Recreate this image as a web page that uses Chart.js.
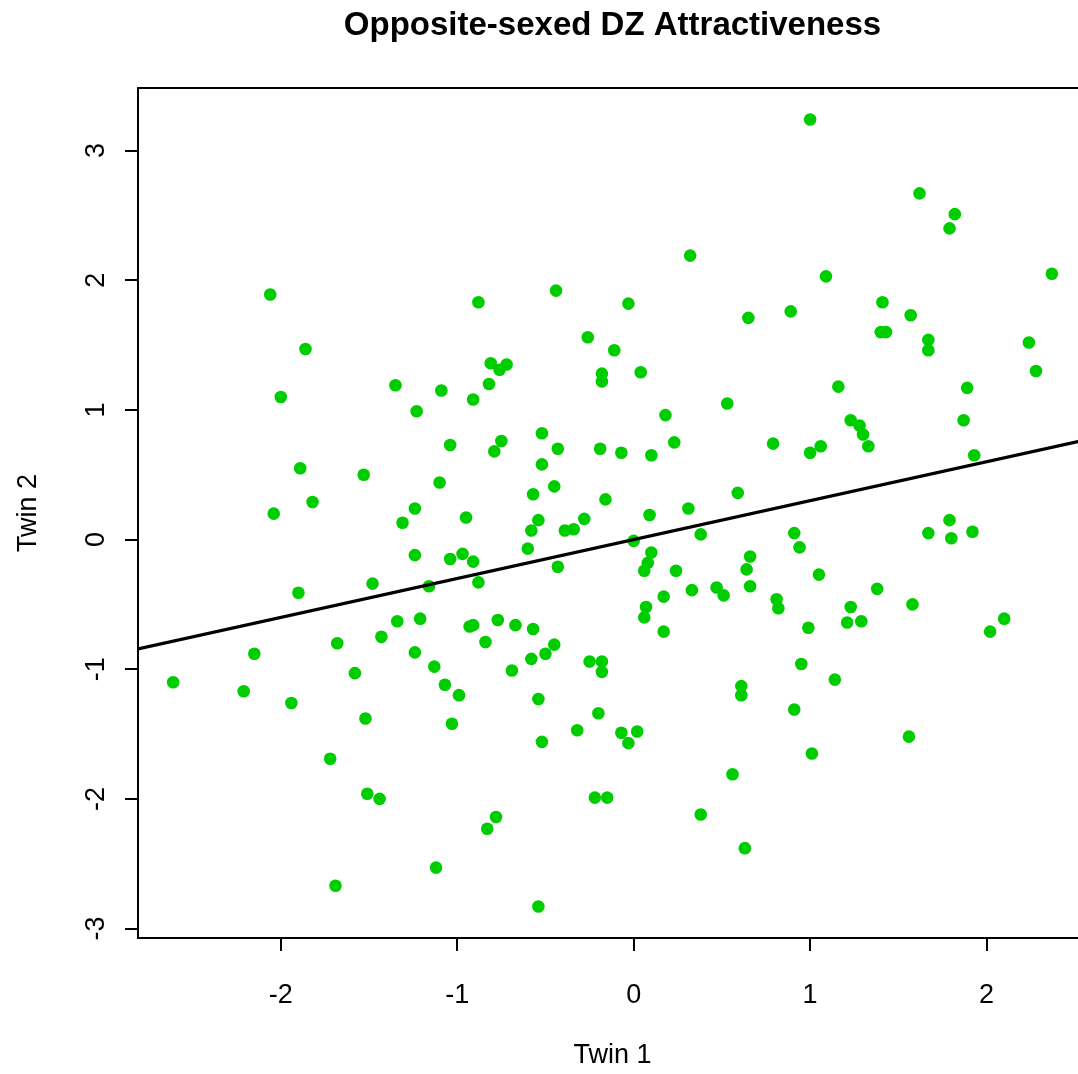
<!DOCTYPE html>
<html>
<head>
<meta charset="utf-8">
<title>Opposite-sexed DZ Attractiveness</title>
<script src="https://cdn.jsdelivr.net/npm/chart.js@4/dist/chart.umd.min.js"></script>
<style>
  html, body { margin: 0; padding: 0; background: #fff; overflow: hidden; }
  canvas { display: block; }
</style>
</head>
<body>
<!-- the plot region runs a little past the right edge of the window, as in the original -->
<canvas id="scatter-chart" width="1087" height="1074"></canvas>
<script>

// twin pair scores
var twin1 = [
  -2.06, 0.32, -0.44, -0.88, -0.03, 1.00, 1.62, 1.82, 1.79, 1.09,
  2.37, 1.41, -1.86, -2.00, -1.35, -1.09, -1.23, -1.04, -1.89, -1.53,
  -1.10, -1.82, -2.04, -1.24, -1.31, 0.65, -0.26, -0.11, -0.81, -0.72,
  -0.76, -0.18, -0.18, 0.04, -0.82, -0.91, 0.53, 0.18, -0.75, -0.79,
  -0.52, -0.43, -0.19, -0.07, 0.10, 0.23, -0.52, -0.45, -0.57, -0.16,
  0.59, 0.09, 0.31, 0.89, 1.57, 1.40, 1.43, 1.67, 1.67, 2.24,
  2.28, 1.16, 1.89, 1.23, 1.28, 1.30, 1.33, 1.87, 0.79, 1.00,
  1.06, 1.93, -1.24, -1.04, -1.48, -1.16, -1.90, -1.34, -1.21, -1.43,
  -1.68, -2.15, -1.24, -1.13, -1.58, -2.61, -2.21, -1.07, -1.94, -1.52,
  -1.03, -0.95, -0.54, -0.58, -0.39, -0.34, -0.28, 0.38, -0.60, 0.00,
  0.10, 0.08, 0.06, 0.24, -0.97, -0.91, -0.43, -0.88, 0.66, 0.64,
  0.66, 0.33, 0.47, 0.51, 0.17, 0.07, 0.06, 0.17, -0.77, -0.67,
  -0.57, -0.93, -0.91, -0.84, -0.45, -0.50, -0.58, -0.69, -0.25, -0.18,
  -0.18, -0.99, -0.54, -0.20, 0.61, 0.61, 0.91, 0.94, 1.67, 1.79,
  1.80, 1.92, 1.05, 1.38, 1.58, 0.81, 0.82, 1.23, 1.21, 1.29,
  0.99, 2.10, 2.02, 0.95, 1.14, 0.91, -1.72, -1.51, -1.44, -1.12,
  -1.69, -0.52, -0.32, -0.07, 0.02, -0.03, 0.56, -0.22, -0.15, -0.78,
  -0.83, 0.38, 0.63, -0.54, 1.01, 1.56
];

var twin2 = [
  1.89, 2.19, 1.92, 1.83, 1.82, 3.24, 2.67, 2.51, 2.40, 2.03,
  2.05, 1.83, 1.47, 1.10, 1.19, 1.15, 0.99, 0.73, 0.55, 0.50,
  0.44, 0.29, 0.20, 0.24, 0.13, 1.71, 1.56, 1.46, 1.36, 1.35,
  1.31, 1.28, 1.22, 1.29, 1.20, 1.08, 1.05, 0.96, 0.76, 0.68,
  0.82, 0.70, 0.70, 0.67, 0.65, 0.75, 0.58, 0.41, 0.35, 0.31,
  0.36, 0.19, 0.24, 1.76, 1.73, 1.60, 1.60, 1.54, 1.46, 1.52,
  1.30, 1.18, 1.17, 0.92, 0.88, 0.81, 0.72, 0.92, 0.74, 0.67,
  0.72, 0.65, -0.12, -0.15, -0.34, -0.36, -0.41, -0.63, -0.61, -0.75,
  -0.80, -0.88, -0.87, -0.98, -1.03, -1.10, -1.17, -1.12, -1.26, -1.38,
  -1.42, 0.17, 0.15, 0.07, 0.07, 0.08, 0.16, 0.04, -0.07, -0.01,
  -0.10, -0.18, -0.24, -0.24, -0.11, -0.17, -0.21, -0.33, -0.13, -0.23,
  -0.36, -0.39, -0.37, -0.43, -0.44, -0.52, -0.60, -0.71, -0.62, -0.66,
  -0.69, -0.67, -0.66, -0.79, -0.81, -0.88, -0.92, -1.01, -0.94, -0.94,
  -1.02, -1.20, -1.23, -1.34, -1.13, -1.20, 0.05, -0.06, 0.05, 0.15,
  0.01, 0.06, -0.27, -0.38, -0.50, -0.46, -0.53, -0.52, -0.64, -0.63,
  -0.68, -0.61, -0.71, -0.96, -1.08, -1.31, -1.69, -1.96, -2.00, -2.53,
  -2.67, -1.56, -1.47, -1.49, -1.48, -1.57, -1.81, -1.99, -1.99, -2.14,
  -2.23, -2.12, -2.38, -2.83, -1.65, -1.52
];

var xTickValues = [ -2, -1, 0, 1, 2 ];
var yTickValues = [ -3, -2, -1, 0, 1, 2, 3 ];

// fitted line twin2 ~ twin1
var fitIntercept = 0.0;
var fitSlope = 0.30;

( function() {

  var FONT = '"Liberation Sans", Arial, Helvetica, sans-serif';

  // R style limits: data range stretched by 4% each side
  var padRange = function( values ) {
    var lo = Math.min.apply( Math, values );
    var hi = Math.max.apply( Math, values );
    var pad = ( hi - lo ) * 0.04;
    return [ lo - pad, hi + pad ];
  };

  var xLim = padRange( twin1 );
  var yLim = padRange( twin2 );

  var points = twin1.map( function( x, i ) {
    return { x: x, y: twin2[ i ] };
  } );

  var fitPoints = xLim.map( function( x ) {
    return { x: x, y: fitIntercept + fitSlope * x };
  } );

  var setTicks = function( values ) {
    return function( scale ) {
      scale.ticks = values.map( function( v ) {
        return { value: v };
      } );
    };
  };

  var boxAndTitle = {
    id: 'boxAndTitle',
    afterDraw: function( chart ) {
      var ctx = chart.ctx;
      var a = chart.chartArea;
      ctx.save();
      ctx.strokeStyle = '#000';
      ctx.lineWidth = 2;
      ctx.strokeRect( a.left, a.top, a.right - a.left, a.bottom - a.top );
      ctx.fillStyle = '#000';
      ctx.font = 'bold 33px ' + FONT;
      ctx.textAlign = 'center';
      ctx.textBaseline = 'middle';
      ctx.fillText( 'Opposite-sexed DZ Attractiveness', ( a.left + a.right ) / 2, 26 );
      ctx.restore();
    }
  };

  var config = {
    type: 'scatter',
    data: {
      datasets: [
        {
          type: 'line',
          data: fitPoints,
          borderColor: '#000000',
          borderWidth: 3.2,
          pointRadius: 0,
          fill: false,
          order: 0
        },
        {
          data: points,
          backgroundColor: '#00CD00',
          borderColor: '#00CD00',
          borderWidth: 0,
          pointRadius: 6.3,
          order: 1
        }
      ]
    },
    options: {
      responsive: false,
      animation: false,
      devicePixelRatio: 1,
      layout: {
        autoPadding: false,
        padding: { top: 88, right: 0, bottom: 0, left: 0 }
      },
      plugins: {
        legend: { display: false },
        tooltip: { enabled: false },
        title: { display: false }
      },
      scales: {
        x: {
          type: 'linear',
          min: xLim[ 0 ],
          max: xLim[ 1 ],
          afterBuildTicks: setTicks( xTickValues ),
          afterFit: function( s ) { s.height = 136; },
          border: { display: false },
          grid: {
            drawOnChartArea: false,
            drawTicks: true,
            tickLength: 13,
            color: '#000',
            lineWidth: 2
          },
          ticks: {
            autoSkip: false,
            maxRotation: 0,
            padding: 28,
            color: '#000',
            font: { family: FONT, size: 27 }
          },
          title: {
            display: true,
            text: 'Twin 1',
            color: '#000',
            padding: { top: 0, bottom: 2 },
            font: { family: FONT, size: 27 }
          }
        },
        y: {
          type: 'linear',
          min: yLim[ 0 ],
          max: yLim[ 1 ],
          afterBuildTicks: setTicks( yTickValues ),
          afterFit: function( s ) { s.width = 138; },
          border: { display: false },
          grid: {
            drawOnChartArea: false,
            drawTicks: true,
            tickLength: 13,
            color: '#000',
            lineWidth: 2
          },
          ticks: {
            autoSkip: false,
            minRotation: 90,
            maxRotation: 90,
            crossAlign: 'center',
            padding: 16,
            color: '#000',
            font: { family: FONT, size: 27 }
          },
          title: {
            display: true,
            text: 'Twin 2',
            color: '#000',
            padding: { top: 12, bottom: 0 },
            font: { family: FONT, size: 27 }
          }
        }
      }
    },
    plugins: [ boxAndTitle ]
  };

  new Chart( document.getElementById( 'scatter-chart' ), config );

} )();

</script>
</body>
</html>
